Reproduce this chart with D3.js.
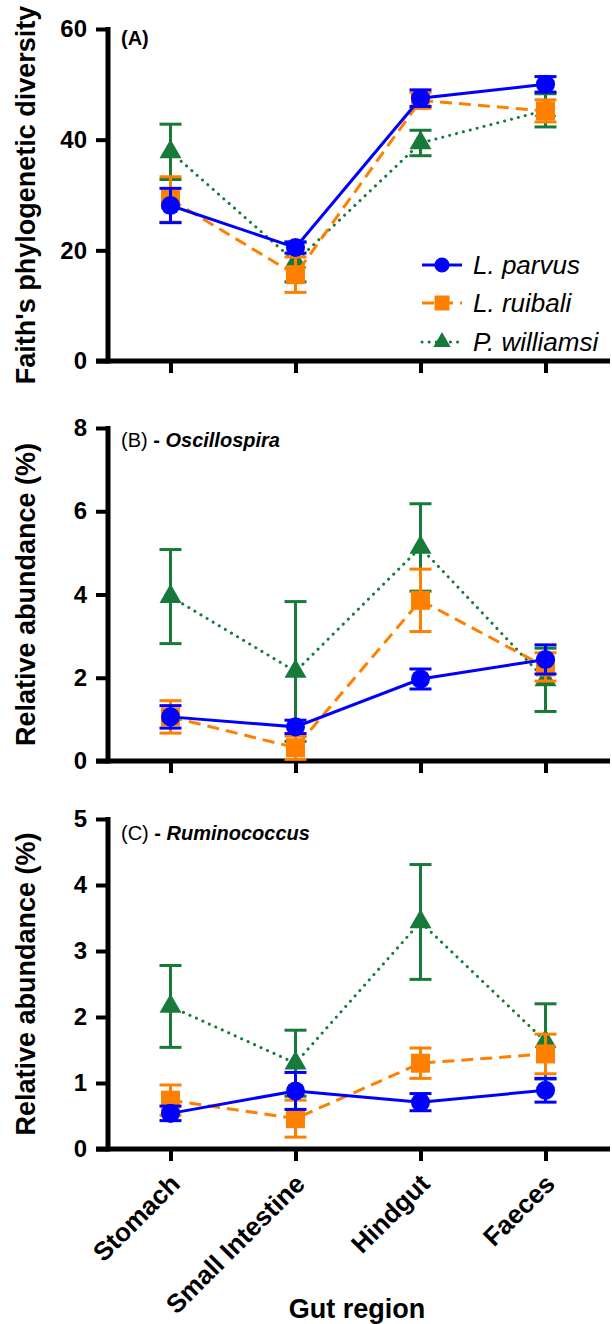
<!DOCTYPE html>
<html>
<head>
<meta charset="utf-8">
<script src="https://cdn.jsdelivr.net/npm/d3@7"></script>
<style>
  body { margin: 0; background: #fff; }
  text { font-family: "Liberation Sans", Arial, Helvetica, sans-serif; }
</style>
</head>
<body>
<div id="chart"></div>
<script>
// gut regions on the x axis
var regions = ["Stomach", "Small Intestine", "Hindgut", "Faeces"];
var speciesNames = ["L. parvus", "L. ruibali", "P. williamsi"];

// (A) Faith's phylogenetic diversity, mean and SEM
var pdParvus = [28.1, 20.5, 47.5, 50.0];
var pdParvusErr = [3.1, 1.0, 1.5, 1.4];
var pdRuibali = [29.2, 15.6, 47.1, 45.2];
var pdRuibaliErr = [4.1, 3.2, 1.4, 2.0];
var pdWilliamsi = [37.8, 17.9, 39.4, 45.3];
var pdWilliamsiErr = [5.0, 3.6, 2.3, 3.0];
var pdTicks = [0, 20, 40, 60];

// (B) Oscillospira relative abundance (%)
var oscParvus = [1.06, 0.82, 1.97, 2.44];
var oscParvusErr = [0.27, 0.16, 0.24, 0.35];
var oscRuibali = [1.06, 0.32, 3.86, 2.26];
var oscRuibaliErr = [0.39, 0.28, 0.75, 0.34];
var oscWilliamsi = [3.95, 2.15, 5.13, 1.95];
var oscWilliamsiErr = [1.13, 1.68, 1.05, 0.76];
var oscTicks = [0, 2, 4, 6, 8];

// (C) Ruminococcus relative abundance (%)
var rumParvus = [0.54, 0.88, 0.71, 0.89];
var rumParvusErr = [0.11, 0.28, 0.13, 0.18];
var rumRuibali = [0.74, 0.46, 1.30, 1.44];
var rumRuibaliErr = [0.23, 0.28, 0.23, 0.30];
var rumWilliamsi = [2.16, 1.30, 3.44, 1.63];
var rumWilliamsiErr = [0.62, 0.50, 0.87, 0.57];
var rumTicks = [0, 1, 2, 3, 4, 5];

var colors = ["#0000ff", "#ff8000", "#187a3a"];
var dashes = [null, "12,7", "0.1,7"];
var symbols = [d3.symbolCircle, d3.symbolSquare, d3.symbolTriangle];
var symbolSizes = [285, 361, 210];
var legendSizes = [180, 225, 130];

var opts = {
  axisX: 108,
  axisRight: 610,
  capHalf: 11
};

var svg = d3.select("#chart")
  .append("svg")
  .attr("width", 612)
  .attr("height", 1324);

var x = d3.scalePoint()
  .domain(regions)
  .range([opts.axisX, 608])
  .padding(0.5);

function drawPanel(p) {
  var y = d3.scaleLinear().domain([0, p.ticks[p.ticks.length - 1]]).range([p.bottom, p.top]);
  var g = svg.append("g");

  // y axis
  var yAxis = g.append("g")
    .attr("transform", "translate(" + opts.axisX + ",0)")
    .call(d3.axisLeft(y).tickValues(p.ticks).tickFormat(d3.format("d"))
      .tickSize(12).tickPadding(9).tickSizeOuter(0));
  yAxis.select(".domain").remove();
  yAxis.selectAll(".tick line").attr("stroke", "#000").attr("stroke-width", 4);
  yAxis.selectAll(".tick text")
    .attr("fill", "#000")
    .style("font-size", "24px")
    .style("font-weight", "bold");

  // x axis
  var xAxis = g.append("g")
    .attr("transform", "translate(0," + p.bottom + ")")
    .call(d3.axisBottom(x).tickSize(12).tickSizeOuter(0).tickFormat(p.showLabels ? null : ""));
  xAxis.select(".domain").remove();
  xAxis.selectAll(".tick line").attr("stroke", "#000").attr("stroke-width", 4);
  if (p.showLabels) {
    xAxis.selectAll(".tick text")
      .attr("fill", "#000")
      .style("font-size", "26px")
      .style("font-weight", "bold")
      .attr("text-anchor", "end")
      .attr("y", 0)
      .attr("dy", "0.35em")
      .attr("transform", "translate(4,30) rotate(-45)");
  }

  // axis lines
  g.append("line")
    .attr("x1", opts.axisX).attr("x2", opts.axisX)
    .attr("y1", p.top - 2).attr("y2", p.bottom + 2.5)
    .attr("stroke", "#000").attr("stroke-width", 5);
  g.append("line")
    .attr("x1", opts.axisX - 12).attr("x2", opts.axisRight)
    .attr("y1", p.bottom).attr("y2", p.bottom)
    .attr("stroke", "#000").attr("stroke-width", 5);

  // axis title
  g.append("text")
    .attr("transform", "translate(35," + (p.top + p.bottom) / 2 + ") rotate(-90)")
    .attr("text-anchor", "middle")
    .style("font-size", "27px")
    .style("font-weight", "bold")
    .text(p.title);

  // panel label
  var lab = g.append("text")
    .attr("x", 121)
    .attr("y", p.labelY)
    .style("font-size", "20px");
  lab.append("tspan").style("font-weight", p.genus ? "normal" : "bold").text(p.label);
  if (p.genus) {
    lab.append("tspan").style("font-weight", "bold").text(" - ");
    lab.append("tspan").style("font-weight", "bold").style("font-style", "italic").text(p.genus);
  }

  // series, drawn green first so blue sits on top
  [2, 1, 0].forEach(function(s) {
    var means = p.means[s], errs = p.errs[s];
    var pts = regions.map(function(r, i) { return { r: r, m: means[i], e: errs[i] }; });
    var sg = g.append("g");

    sg.append("path")
      .datum(pts)
      .attr("fill", "none")
      .attr("stroke", colors[s])
      .attr("stroke-width", 3)
      .attr("stroke-linecap", s == 2 ? "round" : "butt")
      .attr("stroke-dasharray", dashes[s])
      .attr("d", d3.line().x(function(d) { return x(d.r); }).y(function(d) { return y(d.m); }));

    var eb = sg.selectAll("g.err").data(pts).enter().append("g")
      .attr("stroke", colors[s]).attr("stroke-width", 3);
    eb.append("line")
      .attr("x1", function(d) { return x(d.r); })
      .attr("x2", function(d) { return x(d.r); })
      .attr("y1", function(d) { return y(d.m - d.e); })
      .attr("y2", function(d) { return y(d.m + d.e); });
    eb.append("line")
      .attr("x1", function(d) { return x(d.r) - opts.capHalf; })
      .attr("x2", function(d) { return x(d.r) + opts.capHalf; })
      .attr("y1", function(d) { return y(d.m + d.e); })
      .attr("y2", function(d) { return y(d.m + d.e); });
    eb.append("line")
      .attr("x1", function(d) { return x(d.r) - opts.capHalf; })
      .attr("x2", function(d) { return x(d.r) + opts.capHalf; })
      .attr("y1", function(d) { return y(d.m - d.e); })
      .attr("y2", function(d) { return y(d.m - d.e); });

    sg.selectAll("path.mark").data(pts).enter().append("path")
      .attr("class", "mark")
      .attr("fill", colors[s])
      .attr("transform", function(d) { return "translate(" + x(d.r) + "," + y(d.m) + ")"; })
      .attr("d", d3.symbol().type(symbols[s]).size(symbolSizes[s]));
  });

  return g;
}

drawPanel({
  top: 29, bottom: 361, ticks: pdTicks, showLabels: false,
  title: "Faith's phylogenetic diversity", label: "(A)", labelY: 45,
  means: [pdParvus, pdRuibali, pdWilliamsi],
  errs: [pdParvusErr, pdRuibaliErr, pdWilliamsiErr]
});

drawPanel({
  top: 428, bottom: 761, ticks: oscTicks, showLabels: false,
  title: "Relative abundance (%)", label: "(B)", genus: "Oscillospira", labelY: 447,
  means: [oscParvus, oscRuibali, oscWilliamsi],
  errs: [oscParvusErr, oscRuibaliErr, oscWilliamsiErr]
});

drawPanel({
  top: 819, bottom: 1149, ticks: rumTicks, showLabels: true,
  title: "Relative abundance (%)", label: "(C)", genus: "Ruminococcus", labelY: 840,
  means: [rumParvus, rumRuibali, rumWilliamsi],
  errs: [rumParvusErr, rumRuibaliErr, rumWilliamsiErr]
});

// x axis title
svg.append("text")
  .attr("x", 357)
  .attr("y", 1318)
  .attr("text-anchor", "middle")
  .style("font-size", "27px")
  .style("font-weight", "bold")
  .text("Gut region");

// legend in panel A
var legend = svg.append("g");
var legendRows = [265, 303, 342];
speciesNames.forEach(function(name, s) {
  var row = legend.append("g").attr("transform", "translate(0," + legendRows[s] + ")");
  row.append("line")
    .attr("x1", 422).attr("x2", 462)
    .attr("stroke", colors[s])
    .attr("stroke-width", 3)
    .attr("stroke-linecap", s == 2 ? "round" : "butt")
    .attr("stroke-dasharray", dashes[s]);
  row.append("path")
    .attr("fill", colors[s])
    .attr("transform", "translate(442,0)")
    .attr("d", d3.symbol().type(symbols[s]).size(legendSizes[s]));
  row.append("text")
    .attr("x", 473)
    .attr("dy", "0.35em")
    .style("font-size", "26px")
    .style("font-style", "italic")
    .text(name);
});
</script>
</body>
</html>
